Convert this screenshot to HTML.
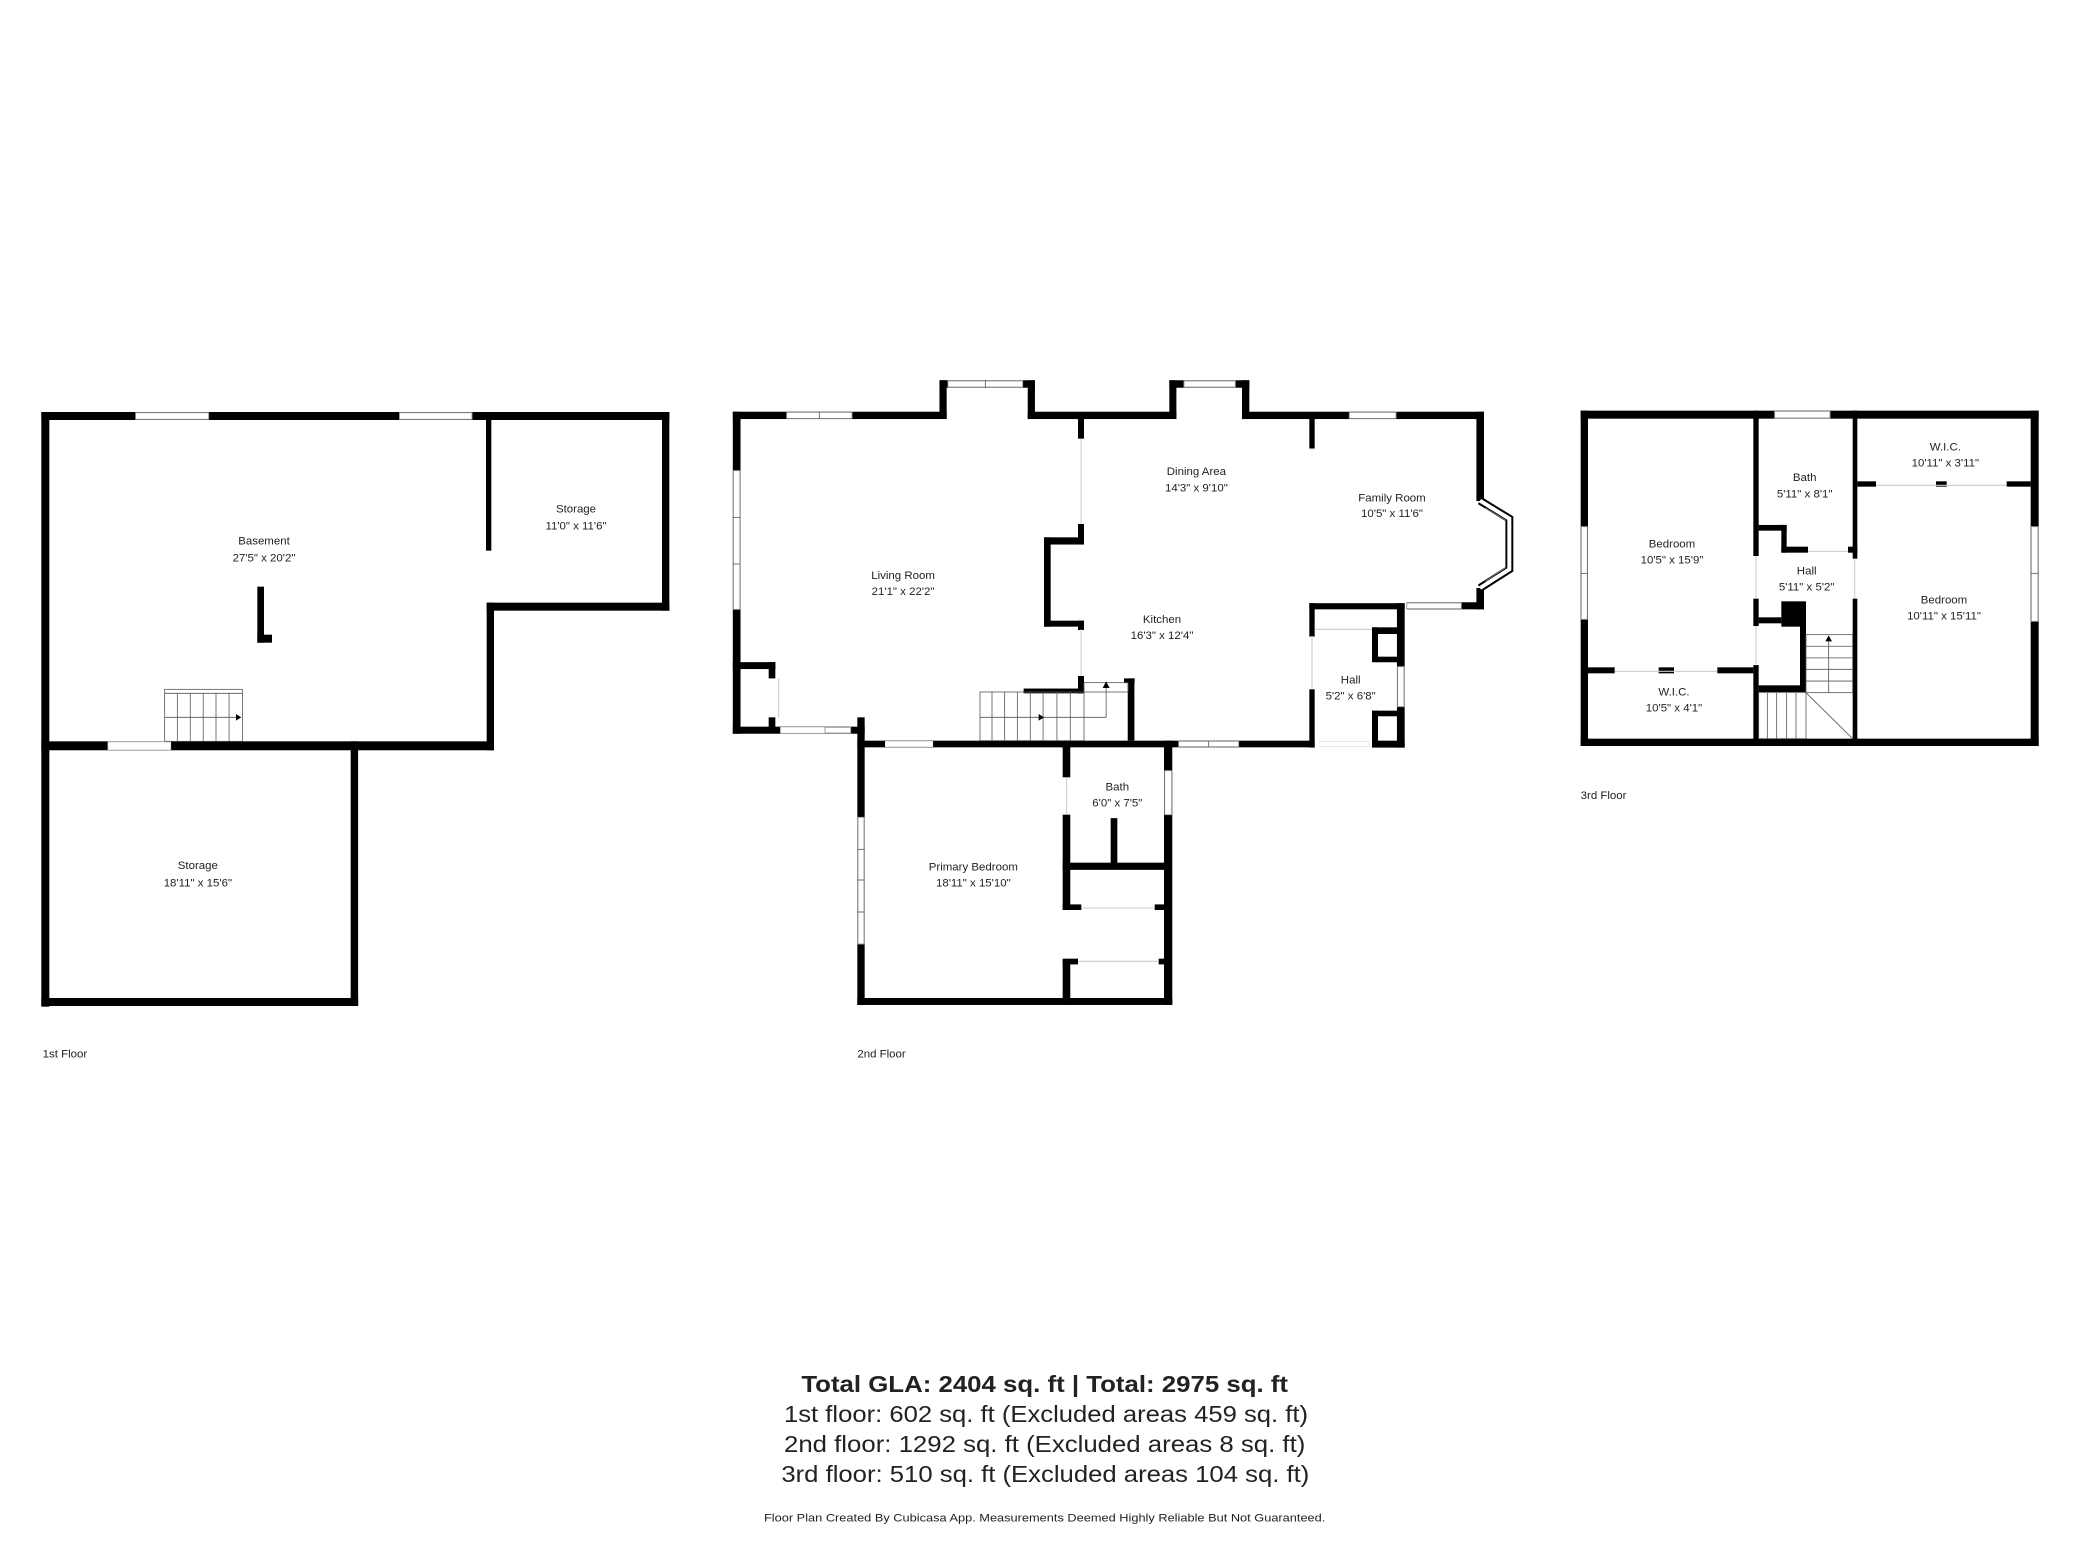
<!DOCTYPE html>
<html><head><meta charset="utf-8"><style>
html,body{margin:0;padding:0;background:#fff;}
svg{display:block}
text{font-family:"Liberation Sans",sans-serif;fill:#222;}
.l{font-size:8.6px;text-anchor:middle;dominant-baseline:middle}
.f{font-size:8.6px;dominant-baseline:middle}
.w{fill:#fff;stroke:#999;stroke-width:0.7}
.t{stroke:#ccc;stroke-width:0.8}
.s{stroke:#555;stroke-width:0.6;fill:none}
</style></head><body>
<svg width="2080" height="1560" viewBox="0 0 1560 1170" xmlns="http://www.w3.org/2000/svg">
<rect width="1560" height="1170" fill="#fff"/>
<g fill="#000">
<rect x="31" y="309" width="471" height="6"/>
<rect x="31" y="309" width="6" height="446"/>
<rect x="496.5" y="309" width="5.5" height="149"/>
<rect x="365" y="452" width="137" height="6"/>
<rect x="365" y="452" width="5.5" height="110.7"/>
<rect x="31" y="556" width="339.5" height="6.7"/>
<rect x="364.5" y="309" width="4" height="104"/>
<rect x="263" y="556" width="5.6" height="198.5"/>
<rect x="31" y="748.5" width="237.6" height="6"/>
<rect x="193" y="440" width="5" height="42"/>
<rect x="193" y="476" width="11" height="6"/>
</g>
<rect class="w" x="101.7" y="309.5" width="54.8" height="5"/>
<rect class="w" x="299.6" y="309.5" width="54.4" height="5"/>
<rect x="81" y="556.5" width="47" height="5.7" fill="#fff" stroke="#ddd" stroke-width="0.6"/>
<g class="s">
<rect x="123.5" y="517" width="58.3" height="39"/>
<line x1="123.5" y1="520" x2="181.8" y2="520"/>
<line x1="133" y1="520" x2="133" y2="556"/><line x1="142.7" y1="520" x2="142.7" y2="556"/><line x1="152.4" y1="520" x2="152.4" y2="556"/><line x1="162" y1="520" x2="162" y2="556"/><line x1="171.8" y1="520" x2="171.8" y2="556"/>
<line x1="123.5" y1="538" x2="178" y2="538"/>
</g>
<polygon points="177,535.5 181,538 177,540.5" fill="#000"/>
<text class="l" x="198" y="406">Basement</text><text class="l" x="198" y="419">27'5" x 20'2"</text>
<text class="l" x="432" y="382">Storage</text><text class="l" x="432" y="395">11'0" x 11'6"</text>
<text class="l" x="148.4" y="649.5">Storage</text><text class="l" x="148.4" y="662.5">18'11" x 15'6"</text>
<text class="f" x="32" y="791">1st Floor</text>

<g fill="#000">
<rect x="549.6" y="308.8" width="160.4" height="5.5"/>
<rect x="704.6" y="285.2" width="5.4" height="29"/>
<rect x="704.6" y="285.2" width="71.6" height="5.6"/>
<rect x="770.8" y="285.2" width="5.4" height="29"/>
<rect x="770.8" y="308.8" width="111.5" height="5.5"/>
<rect x="877" y="285.2" width="5.3" height="29"/>
<rect x="877" y="285.2" width="60" height="5.6"/>
<rect x="931.5" y="285.2" width="5.5" height="29"/>
<rect x="931.5" y="308.8" width="181.5" height="5.5"/>
<rect x="1107.3" y="308.8" width="5.7" height="67"/>
<rect x="1107.3" y="441" width="5.7" height="16"/>
<rect x="1055" y="451.7" width="58" height="5.3"/>
<rect x="549.6" y="308.8" width="5.8" height="241.5"/>
<rect x="549.6" y="545" width="98.9" height="5.3"/>
<rect x="549.6" y="496.6" width="31.9" height="5.2"/>
<rect x="576.5" y="496.6" width="5" height="12.2"/>
<rect x="576.5" y="538" width="5" height="12"/>
<rect x="643" y="538" width="5.5" height="215.7"/>
<rect x="643" y="555.5" width="343" height="5"/>
<rect x="643" y="748.5" width="236.2" height="5.2"/>
<rect x="873" y="555.5" width="6.2" height="198.2"/>
<rect x="797" y="555.5" width="5.7" height="27.5"/>
<rect x="797" y="611" width="5.7" height="70.8"/>
<rect x="797" y="720" width="5.7" height="33.7"/>
<rect x="833" y="613.6" width="5" height="36"/>
<rect x="797" y="647" width="82" height="5.4"/>
<rect x="797" y="678.3" width="14" height="4.2"/>
<rect x="866" y="678.3" width="13" height="4.2"/>
<rect x="797" y="719" width="11.5" height="4.3"/>
<rect x="869" y="719" width="10" height="4.3"/>
<rect x="767.7" y="516.4" width="45.3" height="3.6"/>
<rect x="808.5" y="507" width="4.5" height="13"/>
<rect x="845.8" y="508.8" width="5" height="46.7"/>
<rect x="843" y="508.8" width="8" height="3.5"/>
<rect x="808.5" y="314" width="4.5" height="15"/>
<rect x="808.5" y="393" width="4.5" height="15.4"/>
<rect x="783" y="403" width="30" height="5.4"/>
<rect x="783" y="403" width="5" height="67"/>
<rect x="783" y="465.5" width="30" height="4.5"/>
<rect x="808.5" y="465.5" width="4.5" height="7"/>
<rect x="982" y="314" width="4" height="22.4"/>
<rect x="982" y="452.4" width="71.5" height="4.6"/>
<rect x="1047.7" y="452.4" width="5.8" height="108.3"/>
<rect x="982" y="452.4" width="4" height="25"/>
<rect x="982" y="517" width="4" height="43.7"/>
<rect x="1029" y="470.5" width="24" height="5"/>
<rect x="1029" y="470.5" width="4.5" height="26"/>
<rect x="1029" y="492.5" width="24" height="4.2"/>
<rect x="1029" y="533" width="24" height="4.2"/>
<rect x="1029" y="533" width="4.5" height="27"/>
<rect x="1029" y="555.5" width="24.5" height="5.2"/>
</g>
<polyline points="1110,375.5 1132,389 1132,427 1110,441" fill="none" stroke="#000" stroke-width="6"/>
<polyline points="1110,375.5 1132,389 1132,427 1110,441" fill="none" stroke="#fff" stroke-width="3"/>
<polyline points="1114,381 1129,390 1129,426 1114,436" fill="none" stroke="#999" stroke-width="0.5"/>
<rect class="w" x="590" y="309.3" width="49" height="4.5"/><line class="s" x1="614.5" y1="309" x2="614.5" y2="314"/>
<rect class="w" x="711" y="285.7" width="56" height="4.6"/><line class="s" x1="739" y1="285" x2="739" y2="291"/>
<rect class="w" x="888" y="285.7" width="38.5" height="4.6"/>
<rect class="w" x="1012" y="309.3" width="35" height="4.5"/>
<rect class="w" x="1055" y="452.2" width="41" height="4.3"/>
<rect class="w" x="550.1" y="353" width="4.8" height="104"/><line class="s" x1="549.6" y1="388" x2="555" y2="388"/><line class="s" x1="549.6" y1="423" x2="555" y2="423"/>
<rect x="585.4" y="545.5" width="33.4" height="4.3" fill="#fff" stroke="#ddd" stroke-width="0.5"/>
<rect class="w" x="618.8" y="545.5" width="19.2" height="4.3"/>
<rect x="664" y="556" width="35.6" height="4" fill="#fff" stroke="#ddd" stroke-width="0.5"/>
<rect class="w" x="884" y="556" width="45" height="4"/><line class="s" x1="906.5" y1="556" x2="906.5" y2="560"/>
<rect class="w" x="873.5" y="578" width="5.2" height="33"/>
<rect class="w" x="643.5" y="613" width="4.5" height="95"/><line class="s" x1="643" y1="637" x2="648.5" y2="637"/><line class="s" x1="643" y1="660" x2="648.5" y2="660"/><line class="s" x1="643" y1="684" x2="648.5" y2="684"/>
<rect class="w" x="1048.2" y="500" width="4.8" height="30"/>
<rect x="990" y="556" width="37" height="4" fill="#fff" stroke="#ddd" stroke-width="0.5"/>
<g class="t">
<line x1="811" y1="681" x2="866" y2="681"/><line x1="808.5" y1="721" x2="869" y2="721"/>
<line x1="810.8" y1="329" x2="810.8" y2="393"/><line x1="810.8" y1="472" x2="810.8" y2="507"/>
<line x1="984" y1="477" x2="984" y2="517"/><line x1="986" y1="472" x2="1029" y2="472"/>
<line x1="800" y1="583" x2="800" y2="611"/><line x1="584" y1="509" x2="584" y2="538"/>
</g>
<g class="s">
<rect x="735" y="519" width="78" height="36.5"/>
<line x1="744" y1="519" x2="744" y2="555.5"/><line x1="753.5" y1="519" x2="753.5" y2="555.5"/><line x1="763" y1="519" x2="763" y2="555.5"/><line x1="772.7" y1="519" x2="772.7" y2="555.5"/><line x1="782.3" y1="519" x2="782.3" y2="555.5"/><line x1="792.7" y1="519" x2="792.7" y2="555.5"/><line x1="802.7" y1="519" x2="802.7" y2="555.5"/>
<line x1="735" y1="538" x2="829.6" y2="538"/><line x1="829.6" y1="538" x2="829.6" y2="516"/>
<rect x="813" y="512" width="33" height="7"/>
</g>
<polygon points="779,535.5 783,538 779,540.5" fill="#000"/>
<polygon points="827,516 829.6,511 832.2,516" fill="#000"/>
<text class="l" x="677.3" y="432">Living Room</text><text class="l" x="677.3" y="444">21'1" x 22'2"</text>
<text class="l" x="897.3" y="354">Dining Area</text><text class="l" x="897.3" y="366.5">14'3" x 9'10"</text>
<text class="l" x="1044" y="374">Family Room</text><text class="l" x="1044" y="385.5">10'5" x 11'6"</text>
<text class="l" x="871.5" y="465">Kitchen</text><text class="l" x="871.5" y="477">16'3" x 12'4"</text>
<text class="l" x="1013" y="510.5">Hall</text><text class="l" x="1013" y="522.5">5'2" x 6'8"</text>
<text class="l" x="838" y="590.5">Bath</text><text class="l" x="838" y="602.5">6'0" x 7'5"</text>
<text class="l" x="730" y="650.5">Primary Bedroom</text><text class="l" x="730" y="662.5">18'11" x 15'10"</text>
<text class="f" x="643" y="791">2nd Floor</text>

<g fill="#000">
<rect x="1185.5" y="308" width="343.5" height="6"/>
<rect x="1185.5" y="308" width="5.5" height="251.5"/>
<rect x="1523" y="308" width="6" height="251.5"/>
<rect x="1185.5" y="554" width="343.5" height="5.5"/>
<rect x="1315" y="308" width="4" height="109"/>
<rect x="1315" y="449" width="4" height="20.5"/>
<rect x="1315" y="498.8" width="4" height="60"/>
<rect x="1389.5" y="308" width="3.5" height="111"/>
<rect x="1389.5" y="449" width="3.5" height="110"/>
<rect x="1393" y="361" width="14" height="4"/>
<rect x="1452" y="361" width="8" height="4"/>
<rect x="1505" y="361" width="18" height="4"/>
<rect x="1191" y="500.5" width="20" height="4.5"/>
<rect x="1244" y="500.5" width="11.5" height="4.5"/>
<rect x="1288" y="500.5" width="27" height="4.5"/>
<rect x="1319" y="393.7" width="21" height="4.3"/>
<rect x="1336" y="393.7" width="4" height="20.8"/>
<rect x="1336" y="410" width="20" height="4.5"/>
<rect x="1386" y="410" width="7" height="4.5"/>
<rect x="1336" y="451" width="18.5" height="19"/>
<rect x="1319" y="463" width="17" height="4.5"/>
<rect x="1350" y="467" width="4.5" height="52"/>
<rect x="1319" y="514" width="35.5" height="5"/>
</g>
<rect class="w" x="1331" y="308.5" width="41.5" height="5"/>
<rect class="w" x="1186" y="395" width="4.5" height="69.5"/><line class="s" x1="1185.5" y1="430" x2="1191" y2="430"/>
<rect class="w" x="1523.5" y="395" width="5" height="71"/><line class="s" x1="1523" y1="430" x2="1529" y2="430"/>
<g class="t">
<line x1="1407" y1="364" x2="1505" y2="364"/><line x1="1211" y1="503.5" x2="1288" y2="503.5"/>
<line x1="1356" y1="413.5" x2="1386" y2="413.5"/>
<line x1="1317" y1="417" x2="1317" y2="449"/><line x1="1391" y1="419" x2="1391" y2="449"/><line x1="1317" y1="469.5" x2="1317" y2="499"/>
</g>
<g class="s">
<rect x="1354.5" y="476" width="35" height="43.5"/>
<line x1="1354.5" y1="484.7" x2="1389.5" y2="484.7"/><line x1="1354.5" y1="493.4" x2="1389.5" y2="493.4"/><line x1="1354.5" y1="502" x2="1389.5" y2="502"/><line x1="1354.5" y1="510.8" x2="1389.5" y2="510.8"/>
<line x1="1371.5" y1="480" x2="1371.5" y2="519.5"/>
<rect x="1319" y="519.5" width="35.5" height="34.5"/>
<line x1="1325.5" y1="519.5" x2="1325.5" y2="554"/><line x1="1332.5" y1="519.5" x2="1332.5" y2="554"/><line x1="1340" y1="519.5" x2="1340" y2="554"/><line x1="1347" y1="519.5" x2="1347" y2="554"/>
<line x1="1354.5" y1="519.5" x2="1389.5" y2="554"/>
</g>
<polygon points="1369,481 1371.5,476.5 1374,481" fill="#000"/>
<text class="l" x="1254" y="408.5">Bedroom</text><text class="l" x="1254" y="420.5">10'5" x 15'9"</text>
<text class="l" x="1353.5" y="358.5">Bath</text><text class="l" x="1353.5" y="371">5'11" x 8'1"</text>
<text class="l" x="1459" y="335.5">W.I.C.</text><text class="l" x="1459" y="347.5">10'11" x 3'11"</text>
<text class="l" x="1355" y="428.5">Hall</text><text class="l" x="1355" y="440.5">5'11" x 5'2"</text>
<text class="l" x="1458" y="450.5">Bedroom</text><text class="l" x="1458" y="462.5">10'11" x 15'11"</text>
<text class="l" x="1255.5" y="519.5">W.I.C.</text><text class="l" x="1255.5" y="531.5">10'5" x 4'1"</text>
<text class="f" x="1185.5" y="597">3rd Floor</text>

<text x="783.5" y="1044" text-anchor="middle" font-size="17" font-weight="bold" fill="#000" textLength="365" lengthAdjust="spacingAndGlyphs">Total GLA: 2404 sq. ft | Total: 2975 sq. ft</text>
<text x="784.5" y="1066.5" text-anchor="middle" font-size="17" fill="#000" textLength="393" lengthAdjust="spacingAndGlyphs">1st floor: 602 sq. ft (Excluded areas 459 sq. ft)</text>
<text x="783.5" y="1089" text-anchor="middle" font-size="17" fill="#000" textLength="391" lengthAdjust="spacingAndGlyphs">2nd floor: 1292 sq. ft (Excluded areas 8 sq. ft)</text>
<text x="784" y="1111.5" text-anchor="middle" font-size="17" fill="#000" textLength="396" lengthAdjust="spacingAndGlyphs">3rd floor: 510 sq. ft (Excluded areas 104 sq. ft)</text>
<text x="783.5" y="1141" text-anchor="middle" font-size="8.5" fill="#222" textLength="421" lengthAdjust="spacingAndGlyphs">Floor Plan Created By Cubicasa App. Measurements Deemed Highly Reliable But Not Guaranteed.</text>
</svg>
</body></html>
